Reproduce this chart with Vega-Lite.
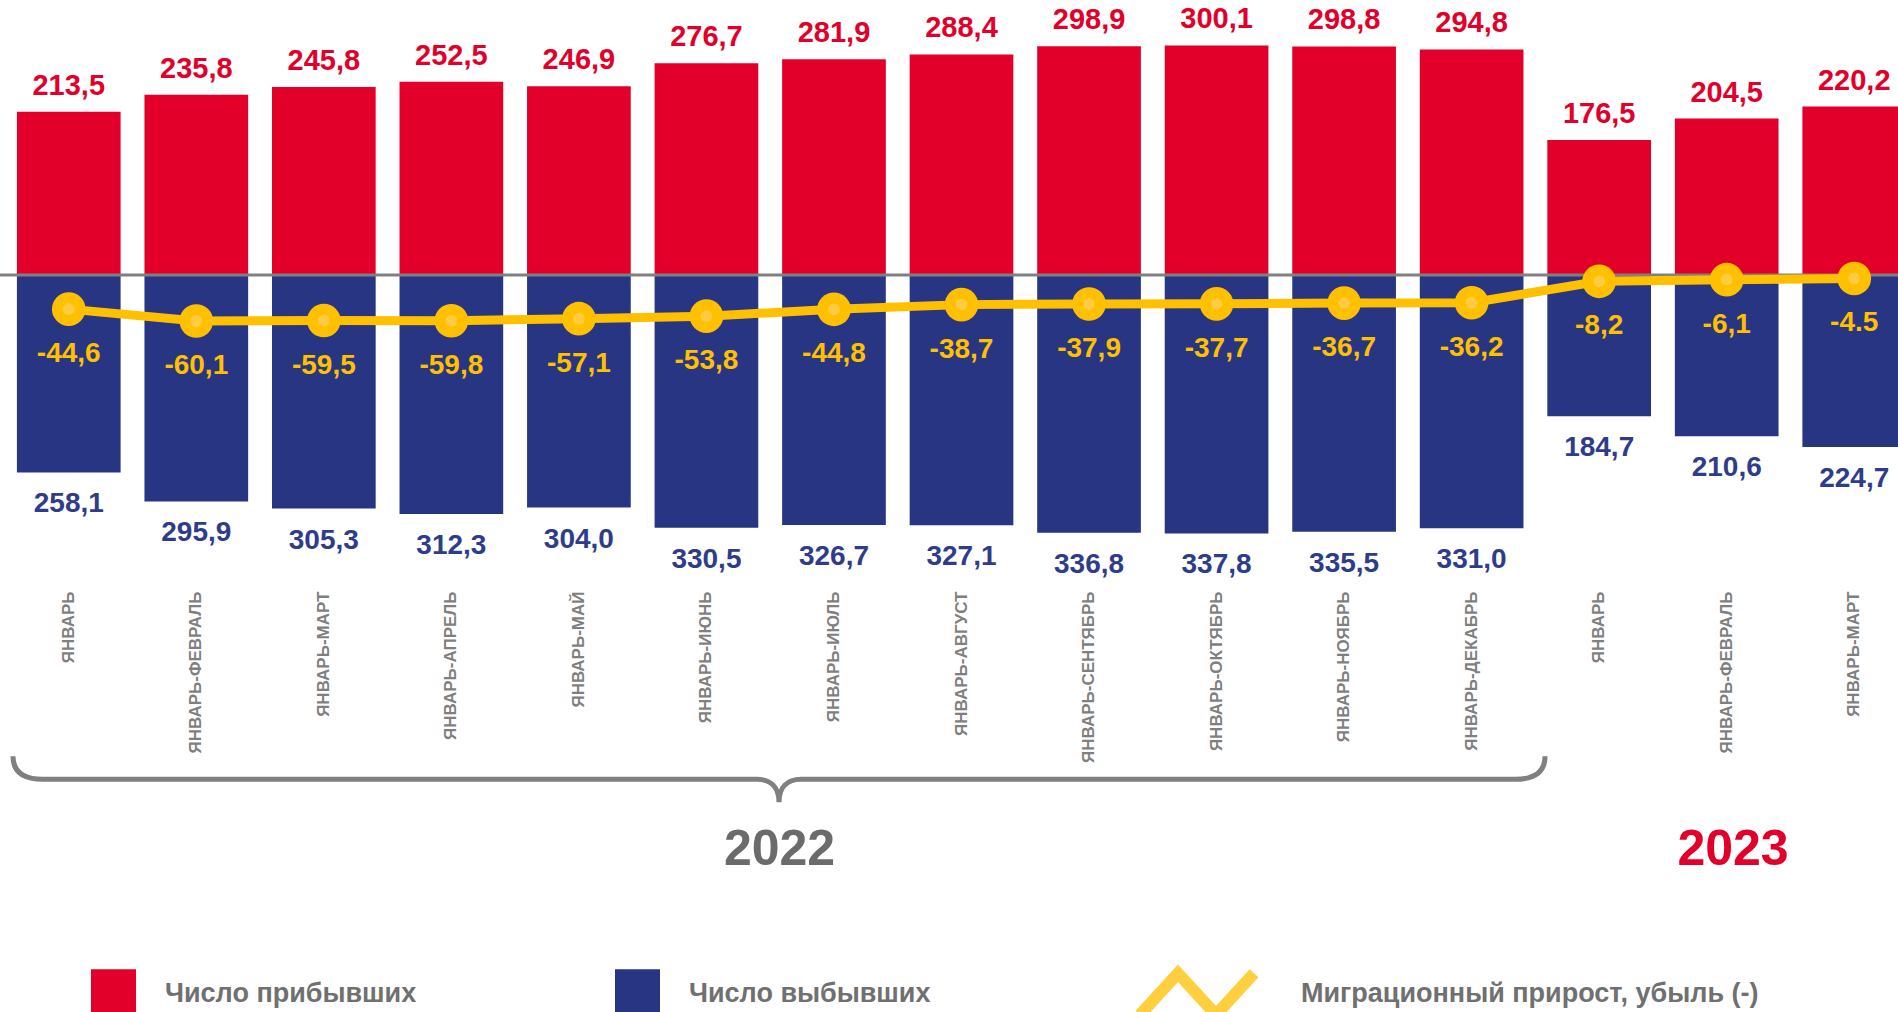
{
  "$schema": "https://vega.github.io/schema/vega-lite/v6.json",
  "width": 1898,
  "height": 585,
  "autosize": {"type": "none"},
  "padding": {"left": 0, "top": 0, "right": 0, "bottom": 427},
  "background": "#ffffff",
  "data": {
    "values": [
      {"period": "ЯНВАРЬ 2022", "arrivals": 213.5, "departures": 258.1, "net": -44.6, "net_label": "-44,6"},
      {"period": "ЯНВАРЬ-ФЕВРАЛЬ 2022", "arrivals": 235.8, "departures": 295.9, "net": -60.1, "net_label": "-60,1"},
      {"period": "ЯНВАРЬ-МАРТ 2022", "arrivals": 245.8, "departures": 305.3, "net": -59.5, "net_label": "-59,5"},
      {"period": "ЯНВАРЬ-АПРЕЛЬ 2022", "arrivals": 252.5, "departures": 312.3, "net": -59.8, "net_label": "-59,8"},
      {"period": "ЯНВАРЬ-МАЙ 2022", "arrivals": 246.9, "departures": 304.0, "net": -57.1, "net_label": "-57,1"},
      {"period": "ЯНВАРЬ-ИЮНЬ 2022", "arrivals": 276.7, "departures": 330.5, "net": -53.8, "net_label": "-53,8"},
      {"period": "ЯНВАРЬ-ИЮЛЬ 2022", "arrivals": 281.9, "departures": 326.7, "net": -44.8, "net_label": "-44,8"},
      {"period": "ЯНВАРЬ-АВГУСТ 2022", "arrivals": 288.4, "departures": 327.1, "net": -38.7, "net_label": "-38,7"},
      {"period": "ЯНВАРЬ-СЕНТЯБРЬ 2022", "arrivals": 298.9, "departures": 336.8, "net": -37.9, "net_label": "-37,9"},
      {"period": "ЯНВАРЬ-ОКТЯБРЬ 2022", "arrivals": 300.1, "departures": 337.8, "net": -37.7, "net_label": "-37,7"},
      {"period": "ЯНВАРЬ-НОЯБРЬ 2022", "arrivals": 298.8, "departures": 335.5, "net": -36.7, "net_label": "-36,7"},
      {"period": "ЯНВАРЬ-ДЕКАБРЬ 2022", "arrivals": 294.8, "departures": 331.0, "net": -36.2, "net_label": "-36,2"},
      {"period": "ЯНВАРЬ 2023", "arrivals": 176.5, "departures": 184.7, "net": -8.2, "net_label": "-8,2"},
      {"period": "ЯНВАРЬ-ФЕВРАЛЬ 2023", "arrivals": 204.5, "departures": 210.6, "net": -6.1, "net_label": "-6,1"},
      {"period": "ЯНВАРЬ-МАРТ 2023", "arrivals": 220.2, "departures": 224.7, "net": -4.5, "net_label": "-4.5"}
    ]
  },
  "resolve": {"scale": {"y": "independent"}},
  "layer": [
    {
      "mark": {"type": "bar"},
      "encoding": {
        "x": {
          "field": "period", "type": "nominal", "sort": null, "title": null,
          "scale": {
            "domain": ["ЯНВАРЬ 2022","ЯНВАРЬ-ФЕВРАЛЬ 2022","ЯНВАРЬ-МАРТ 2022","ЯНВАРЬ-АПРЕЛЬ 2022","ЯНВАРЬ-МАЙ 2022","ЯНВАРЬ-ИЮНЬ 2022","ЯНВАРЬ-ИЮЛЬ 2022","ЯНВАРЬ-АВГУСТ 2022","ЯНВАРЬ-СЕНТЯБРЬ 2022","ЯНВАРЬ-ОКТЯБРЬ 2022","ЯНВАРЬ-НОЯБРЬ 2022","ЯНВАРЬ-ДЕКАБРЬ 2022","ЯНВАРЬ 2023","ЯНВАРЬ-ФЕВРАЛЬ 2023","ЯНВАРЬ-МАРТ 2023"],
            "range": [5, 1918], "paddingInner": 0.187, "paddingOuter": 0.0935
          },
          "axis": {
            "title": null, "labelAngle": -90, "labelAlign": "right", "labelBaseline": "middle",
            "labelExpr": "split(datum.label, ' ')[0]",
            "labelFont": "Liberation Sans", "labelFontSize": 17, "labelFontWeight": "bold",
            "labelColor": "#7F7F7F", "ticks": false, "tickSize": 0, "domain": false, "grid": false,
            "labelPadding": 6, "labelLimit": 400, "labelOverlap": false
          }
        },
        "y": {"field": "arrivals", "type": "quantitative", "axis": null, "scale": {"domain": [-405.2, 359.5], "nice": false}},
        "fill": {
          "datum": "Число прибывших", "type": "nominal",
          "scale": {"domain": ["Число прибывших", "Число выбывших"], "range": ["#E2002A", "#283583"]},
          "legend": {
            "orient": "none", "legendX": 91, "legendY": 971.5, "direction": "horizontal", "title": null,
            "labelFont": "Liberation Sans", "labelFontSize": 27, "labelFontWeight": "bold", "labelColor": "#707070",
            "labelLimit": 1000, "columnPadding": 198, "labelOffset": 29,
            "symbolType": "M-1,-1.111L1,-1.111L1,1.111L-1,1.111Z", "symbolSize": 2025, "symbolStrokeWidth": 0
          }
        }
      }
    },
    {
      "encoding": {
        "x": {"field": "period", "type": "nominal", "sort": null, "title": null},
        "y": {"field": "departures", "type": "quantitative", "axis": null, "scale": {"domain": [-359.5, 405.2], "reverse": true, "nice": false}}
      },
      "layer": [
        {
          "mark": {"type": "bar"},
          "encoding": {"fill": {"datum": "Число выбывших", "type": "nominal"}}
        },
        {
          "mark": {"type": "text", "font": "Liberation Sans", "fontSize": 28, "fontWeight": "bold", "color": "#2F3C8A", "baseline": "alphabetic", "dy": 40},
          "encoding": {"text": {"field": "departures", "type": "quantitative", "format": ".1f"}}
        }
      ]
    },
    {
      "layer": [
        {
          "data": {"values": [{}]},
          "mark": {"type": "rule", "color": "#808080", "strokeWidth": 3},
          "encoding": {"y": {"datum": 0, "type": "quantitative", "axis": null, "scale": {"domain": [-405.2, 359.5], "nice": false}}}
        },
        {
          "mark": {"type": "line", "strokeWidth": 9, "order": false},
          "encoding": {
            "x": {"field": "period", "type": "nominal", "sort": null, "title": null},
            "y": {"field": "net", "type": "quantitative", "axis": null, "scale": {"domain": [-405.2, 359.5], "nice": false}},
            "stroke": {
              "datum": "Миграционный прирост, убыль (-)", "type": "nominal",
              "scale": {"domain": ["Миграционный прирост, убыль (-)"], "range": ["#FFC000"]},
              "legend": {
                "orient": "none", "legendX": 1140, "legendY": 937, "direction": "horizontal", "title": null,
                "labelFont": "Liberation Sans", "labelFontSize": 27, "labelFontWeight": "bold", "labelColor": "#707070",
                "labelLimit": 1000, "labelOffset": 47,
                "symbolType": "M-1.118,0.406L-0.373,-0.406L0.373,0.406L1.118,-0.406",
                "symbolSize": 10404, "symbolStrokeWidth": 12, "symbolFillColor": "transparent", "symbolOpacity": 0.75
              }
            }
          }
        },
        {
          "mark": {"type": "circle", "size": 1134, "color": "#FFC000", "opacity": 1},
          "encoding": {
            "x": {"field": "period", "type": "nominal", "sort": null, "title": null},
            "y": {"field": "net", "type": "quantitative", "axis": null, "scale": {"domain": [-405.2, 359.5], "nice": false}}
          }
        },
        {
          "mark": {"type": "circle", "size": 140, "color": "#FFCB40", "opacity": 1},
          "encoding": {
            "x": {"field": "period", "type": "nominal", "sort": null, "title": null},
            "y": {"field": "net", "type": "quantitative", "axis": null, "scale": {"domain": [-405.2, 359.5], "nice": false}}
          }
        },
        {
          "mark": {"type": "text", "font": "Liberation Sans", "fontSize": 29, "fontWeight": "bold", "color": "#E2002A", "baseline": "alphabetic", "dy": -17},
          "encoding": {
            "x": {"field": "period", "type": "nominal", "sort": null, "title": null},
            "y": {"field": "arrivals", "type": "quantitative", "axis": null, "scale": {"domain": [-405.2, 359.5], "nice": false}},
            "text": {"field": "arrivals", "type": "quantitative", "format": ".1f"}
          }
        },
        {
          "mark": {"type": "text", "font": "Liberation Sans", "fontSize": 28, "fontWeight": "bold", "color": "#FFC000", "baseline": "alphabetic", "dy": 53},
          "encoding": {
            "x": {"field": "period", "type": "nominal", "sort": null, "title": null},
            "y": {"field": "net", "type": "quantitative", "axis": null, "scale": {"domain": [-405.2, 359.5], "nice": false}},
            "text": {"field": "net_label", "type": "nominal"}
          }
        },
        {
          "data": {"values": [{"year": "2022"}]},
          "mark": {"type": "point", "shape": "M-766,-23C-766,-8,-756,0,-736,0L-22,0C-8,0,0,8,0,23M0,23C0,8,8,0,22,0L736,0C756,0,766,-8,766,-23", "size": 4, "filled": false, "stroke": "#808080", "strokeWidth": 5, "opacity": 1, "strokeCap": "butt"},
          "encoding": {
            "x": {"datum": "ЯНВАРЬ-ИЮЛЬ 2022", "type": "nominal", "bandPosition": -0.03, "title": null},
            "y": {"datum": -659.2, "type": "quantitative", "axis": null, "scale": {"domain": [-405.2, 359.5], "nice": false}}
          }
        },
        {
          "data": {"values": [{"year": "2022"}]},
          "mark": {"type": "text", "font": "Liberation Sans", "fontSize": 50, "fontWeight": "bold", "color": "#6B6B6B", "baseline": "alphabetic"},
          "encoding": {
            "x": {"datum": "ЯНВАРЬ-ИЮЛЬ 2022", "type": "nominal", "bandPosition": -0.025, "title": null},
            "y": {"datum": -771.2, "type": "quantitative", "axis": null, "scale": {"domain": [-405.2, 359.5], "nice": false}},
            "text": {"field": "year", "type": "nominal"}
          }
        },
        {
          "data": {"values": [{"year": "2023"}]},
          "mark": {"type": "text", "font": "Liberation Sans", "fontSize": 50, "fontWeight": "bold", "color": "#E2002A", "baseline": "alphabetic"},
          "encoding": {
            "x": {"datum": "ЯНВАРЬ-ФЕВРАЛЬ 2023", "type": "nominal", "bandPosition": 0.561, "title": null},
            "y": {"datum": -771.2, "type": "quantitative", "axis": null, "scale": {"domain": [-405.2, 359.5], "nice": false}},
            "text": {"field": "year", "type": "nominal"}
          }
        }
      ]
    }
  ],
  "config": {
    "view": {"stroke": null},
    "font": "Liberation Sans",
    "locale": {"number": {"decimal": ",", "thousands": " ", "grouping": [3], "currency": ["", ""], "minus": "-"}}
  }
}
